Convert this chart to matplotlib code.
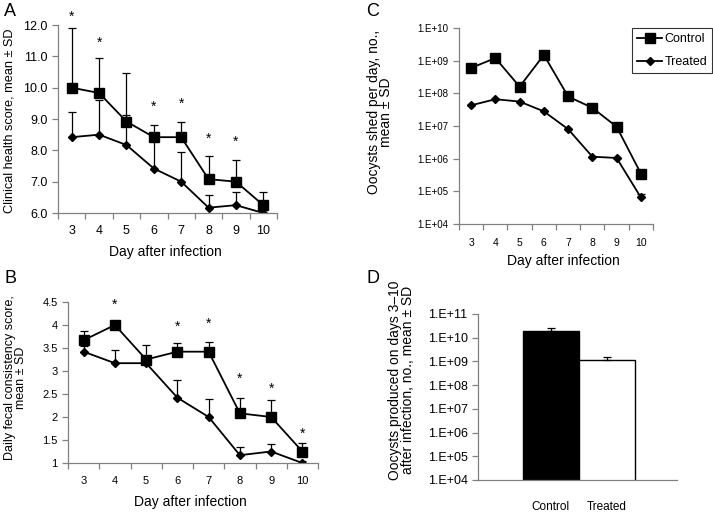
import matplotlib.pyplot as plt
import matplotlib.ticker as mticker
import numpy as np

plt.rcParams['font.family'] = ['Liberation Sans', 'DejaVu Sans']

days = ['3', '4', '5', '6', '7', '8', '9', '10']

# A - clinical health score
a_control = [10.0, 9.83, 8.92, 8.42, 8.42, 7.08, 7.0, 6.25]
a_control_top = [11.9, 10.95, 10.47, 8.8, 8.9, 7.82, 7.7, 6.67]
a_treated = [8.42, 8.5, 8.17, 7.42, 7.0, 6.17, 6.25, 6.0]
a_treated_top = [9.22, 9.6, 9.13, 8.4, 7.95, 6.58, 6.68, 6.1]
a_star_days = [0, 1, 3, 4, 5, 6]
a_star_y = [12.25, 11.42, 9.4, 9.5, 8.38, 8.28]

# B - fecal consistency score
b_control = [3.67, 4.0, 3.25, 3.42, 3.42, 2.08, 2.0, 1.25]
b_control_top = [3.88, 4.0, 3.57, 3.61, 3.64, 2.42, 2.36, 1.44]
b_treated = [3.42, 3.17, 3.17, 2.42, 2.0, 1.17, 1.25, 1.0]
b_treated_top = [3.55, 3.46, 3.3, 2.8, 2.4, 1.34, 1.42, 1.05]
b_star_days = [1, 3, 4, 5, 6, 7]
b_star_y = [4.45, 3.97, 4.02, 2.84, 2.62, 1.63]

# C - oocysts shed per day
c_control = [6.0e8, 1.2e9, 1.6e8, 1.5e9, 8.0e7, 3.6e7, 9.5e6, 3.5e5]
c_treated = [4.3e7, 6.6e7, 5.6e7, 2.8e7, 8.0e6, 1.15e6, 1.05e6, 6.5e4]
c_treated_top = [4.3e7, 6.6e7, 5.6e7, 2.8e7, 8.0e6, 1.15e6, 1.05e6, 8.0e4]

# D - total oocysts days 3-10
groups = ['Control', 'Treated']
d_vals = [2.0e10, 1.2e9]
d_top = [2.5e10, 1.5e9]

W, H = 713, 513
fig = plt.figure(figsize=(W / 100, H / 100), dpi=100)


def px_axes(left, top, right, bottom):
    return fig.add_axes([left / W, 1 - bottom / H, (right - left) / W, (bottom - top) / H])


def style(ax, tick_size):
    for s in ['top', 'right']:
        ax.spines[s].set_visible(False)
    for s in ['left', 'bottom']:
        ax.spines[s].set_color('#808080')
        ax.spines[s].set_linewidth(0.9)
    ax.tick_params(axis='both', which='both', direction='out', color='#808080',
                   labelsize=tick_size, length=4, width=0.9)


def category_x(ax, labels, size, pad):
    n = len(labels)
    ax.set_xlim(-0.5, n - 0.5)
    ax.set_xticks(np.arange(-0.5, n, 1.0))
    ax.set_xticklabels([])
    ax.set_xticks(np.arange(n), minor=True)
    ax.set_xticklabels(labels, minor=True)
    ax.tick_params(axis='x', which='minor', length=0, labelsize=size, pad=pad)


def draw_lines(ax, ctrl, ctrl_top, trt, trt_top):
    x = np.arange(len(ctrl))
    ax.errorbar(x, trt, yerr=[np.zeros(len(trt)), np.array(trt_top) - np.array(trt)],
                fmt='none', ecolor='black', elinewidth=0.9, capsize=3, capthick=0.9)
    ax.errorbar(x, ctrl, yerr=[np.zeros(len(ctrl)), np.array(ctrl_top) - np.array(ctrl)],
                fmt='none', ecolor='black', elinewidth=0.9, capsize=3, capthick=0.9)
    ax.plot(x, ctrl, color='black', lw=1.3, marker='s', ms=6.5, label='Control')
    ax.plot(x, trt, color='black', lw=1.3, marker='D', ms=4.5, label='Treated')


def sci_fmt(v, p):
    return f'1.E+{int(round(np.log10(v))):02d}'


# Panel A
axA = px_axes(58, 25, 277, 213)
style(axA, 9)
draw_lines(axA, a_control, a_control_top, a_treated, a_treated_top)
axA.set_ylim(6.0, 12.0)
axA.set_yticks(np.arange(6, 12.01, 1))
axA.yaxis.set_major_formatter(mticker.FormatStrFormatter('%.1f'))
category_x(axA, days, 9, 9)
for d, y in zip(a_star_days, a_star_y):
    axA.text(d, y, '*', ha='center', va='center', fontsize=10)
axA.set_ylabel('Clinical health score, mean ± SD', fontsize=9.2)
axA.yaxis.set_label_coords(-0.195, 0.49)
axA.set_xlabel('Day after infection', fontsize=10)
axA.xaxis.set_label_coords(0.49, -0.17)

# Panel B
axB = px_axes(68, 302, 318, 463)
style(axB, 8)
draw_lines(axB, b_control, b_control_top, b_treated, b_treated_top)
axB.set_ylim(1.0, 4.5)
axB.set_yticks(np.arange(1, 4.51, 0.5))
axB.yaxis.set_major_formatter(mticker.FuncFormatter(lambda v, p: f'{v:g}'))
category_x(axB, days, 8, 9)
for d, y in zip(b_star_days, b_star_y):
    axB.text(d, y, '*', ha='center', va='center', fontsize=10)
axB.set_ylabel('Daily fecal consistency score,\nmean ± SD', fontsize=9, linespacing=0.9)
axB.yaxis.set_label_coords(-0.165, 0.53)
axB.set_xlabel('Day after infection', fontsize=10)
axB.xaxis.set_label_coords(0.49, -0.2)

# Panel C
axC = px_axes(459, 28, 653, 224)
style(axC, 7)
axC.set_yscale('log')
draw_lines(axC, c_control, c_control, c_treated, c_treated_top)
axC.set_ylim(1e4, 1e10)
axC.yaxis.set_major_locator(mticker.LogLocator(base=10, numticks=10))
axC.yaxis.set_minor_locator(mticker.NullLocator())
axC.yaxis.set_major_formatter(mticker.FuncFormatter(sci_fmt))
for lab in axC.get_yticklabels():
    lab.set_family(['Liberation Sans Narrow', 'Liberation Sans'])
category_x(axC, days, 7.5, 10)
axC.set_ylabel('Oocysts shed per day, no.,\nmean ± SD', fontsize=10, linespacing=0.85)
axC.yaxis.set_label_coords(-0.34, 0.57)
axC.set_xlabel('Day after infection', fontsize=10)
axC.xaxis.set_label_coords(0.54, -0.155)
leg = fig.legend(*axC.get_legend_handles_labels(), loc='upper left',
                 bbox_to_anchor=(632 / W, 1 - 28 / H), fontsize=9, frameon=True,
                 fancybox=False, edgecolor='black', handlelength=2.0,
                 handletextpad=0.2, borderpad=0.4, labelspacing=0.9, borderaxespad=0)
leg.get_frame().set_linewidth(0.8)

# Panel D
axD = px_axes(478, 314, 677, 480)
style(axD, 9)
axD.set_yscale('log')
xd = np.arange(len(groups))
axD.bar(xd, d_vals, width=1.0, color=['black', 'white'], edgecolor='black', linewidth=1.0)
axD.errorbar(xd, d_vals, yerr=[np.zeros(2), np.array(d_top) - np.array(d_vals)],
             fmt='none', ecolor='black', elinewidth=0.9, capsize=3, capthick=0.9)
axD.set_ylim(1e4, 1e11)
axD.set_xlim(-1.3, 2.25)
axD.yaxis.set_major_locator(mticker.LogLocator(base=10, numticks=10))
axD.yaxis.set_minor_locator(mticker.NullLocator())
axD.yaxis.set_major_formatter(mticker.FuncFormatter(sci_fmt))
axD.set_xticks(xd)
axD.set_xticklabels(groups)
axD.tick_params(axis='x', length=0, labelsize=8.5, pad=15)
axD.set_ylabel('Oocysts produced on days 3–10\nafter infection, no., mean ± SD', fontsize=10,
               linespacing=0.85)
axD.yaxis.set_label_coords(-0.318, 0.6)

# panel letters
for letter, x, y in [('A', 4, 3), ('B', 4, 270), ('C', 366, 3), ('D', 366, 270)]:
    fig.text(x / W, 1 - y / H, letter, fontsize=13, ha='left', va='top')

fig.savefig('out.png', dpi=100)
